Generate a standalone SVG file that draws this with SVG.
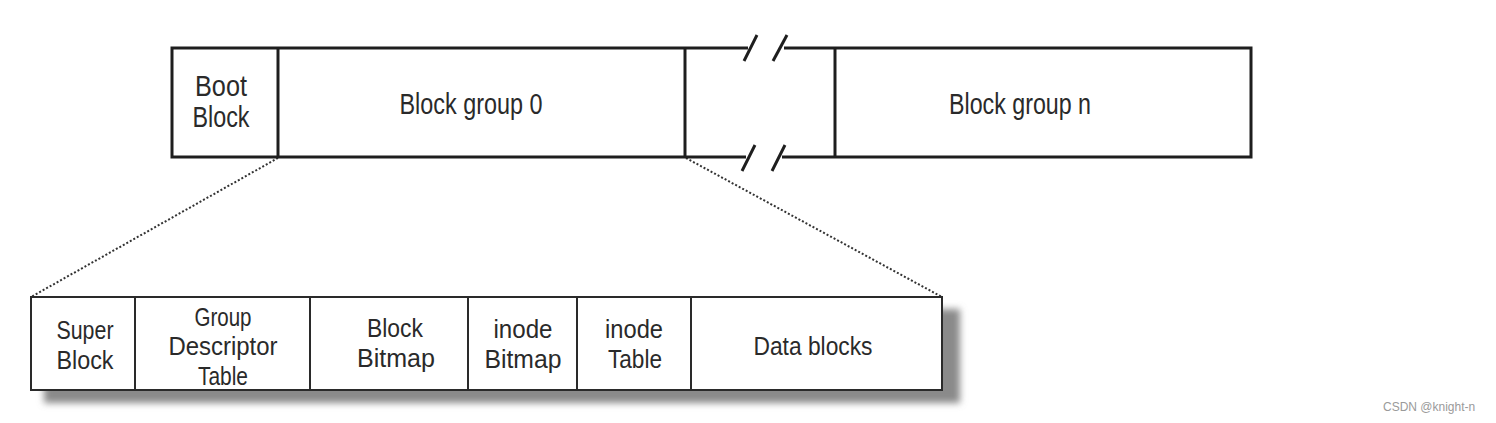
<svg xmlns="http://www.w3.org/2000/svg" width="1496" height="423" viewBox="0 0 1496 423">
<style>
.t{font-family:"Liberation Sans",Arial,sans-serif;font-size:29px;fill:#2a2a2a;}
.s{font-family:"Liberation Sans",Arial,sans-serif;font-size:26px;fill:#2a2a2a;}
.top{fill:#fff;stroke:#1e1e1e;stroke-width:3;}
.bot{fill:#fff;stroke:#2a2a2a;stroke-width:2;}
.div{stroke:#1e1e1e;stroke-width:3;}
.div2{stroke:#2a2a2a;stroke-width:2;}
.dot{stroke:#333;stroke-width:2;stroke-dasharray:2 2;fill:none;}
.brk{stroke:#1e1e1e;stroke-width:3;fill:none;}
.wm{font-family:"Liberation Sans",Arial,sans-serif;font-size:12px;fill:#9a9a9a;}
</style>
<defs>
<filter id="sh" x="-5%" y="-30%" width="110%" height="160%">
<feGaussianBlur stdDeviation="3.5"/>
</filter>
</defs>
<rect width="1496" height="423" fill="#fff"/>

<g id="connectors">
<line class="dot" x1="278" y1="158" x2="31" y2="297"/>
<line class="dot" x1="686" y1="158" x2="942" y2="297"/>
</g>

<g id="disk">
<path class="top" d="M748,48 H172 V157 H746 M782,157 H1251 V48 H784"/>
<line class="div" x1="278" y1="48" x2="278" y2="157"/>
<line class="div" x1="685" y1="48" x2="685" y2="157"/>
<line class="div" x1="835" y1="48" x2="835" y2="157"/>
<line class="brk" x1="744" y1="61" x2="757" y2="35"/>
<line class="brk" x1="773" y1="61" x2="787" y2="35"/>
<line class="brk" x1="742" y1="171" x2="755" y2="145"/>
<line class="brk" x1="772" y1="171" x2="785" y2="145"/>
</g>
<g id="boot-block">
<text class="t" x="221" y="96" text-anchor="middle" textLength="52" lengthAdjust="spacingAndGlyphs">Boot</text>
<text class="t" x="221" y="127" text-anchor="middle" textLength="57" lengthAdjust="spacingAndGlyphs">Block</text>
</g>
<g id="block-group-0">
<text class="t" x="471" y="114" text-anchor="middle" textLength="143" lengthAdjust="spacingAndGlyphs">Block group 0</text>
</g>
<g id="block-group-n">
<text class="t" x="1020" y="114" text-anchor="middle" textLength="142" lengthAdjust="spacingAndGlyphs">Block group n</text>
</g>

<g id="group-detail">
<rect x="44" y="309" width="916" height="94" fill="#8a8a8a" filter="url(#sh)"/>
<rect class="bot" x="31" y="297" width="911" height="93"/>
<line class="div2" x1="135" y1="297" x2="135" y2="390"/>
<line class="div2" x1="310" y1="297" x2="310" y2="390"/>
<line class="div2" x1="468" y1="297" x2="468" y2="390"/>
<line class="div2" x1="577" y1="297" x2="577" y2="390"/>
<line class="div2" x1="691" y1="297" x2="691" y2="390"/>
</g>
<g id="super-block">
<text class="s" x="85" y="339" text-anchor="middle" textLength="57" lengthAdjust="spacingAndGlyphs">Super</text>
<text class="s" x="85" y="369" text-anchor="middle" textLength="57" lengthAdjust="spacingAndGlyphs">Block</text>
</g>
<g id="group-descriptor-table">
<text class="s" x="223" y="326" text-anchor="middle" textLength="57" lengthAdjust="spacingAndGlyphs">Group</text>
<text class="s" x="223" y="355" text-anchor="middle" textLength="109" lengthAdjust="spacingAndGlyphs">Descriptor</text>
<text class="s" x="223" y="385" text-anchor="middle" textLength="50" lengthAdjust="spacingAndGlyphs">Table</text>
</g>
<g id="block-bitmap">
<text class="s" x="395" y="337" text-anchor="middle" textLength="56" lengthAdjust="spacingAndGlyphs">Block</text>
<text class="s" x="396" y="367" text-anchor="middle" textLength="78" lengthAdjust="spacingAndGlyphs">Bitmap</text>
</g>
<g id="inode-bitmap">
<text class="s" x="523" y="338" text-anchor="middle" textLength="59" lengthAdjust="spacingAndGlyphs">inode</text>
<text class="s" x="523" y="368" text-anchor="middle" textLength="77" lengthAdjust="spacingAndGlyphs">Bitmap</text>
</g>
<g id="inode-table">
<text class="s" x="634" y="338" text-anchor="middle" textLength="58" lengthAdjust="spacingAndGlyphs">inode</text>
<text class="s" x="635" y="368" text-anchor="middle" textLength="54" lengthAdjust="spacingAndGlyphs">Table</text>
</g>
<g id="data-blocks">
<text class="s" x="813" y="355" text-anchor="middle" textLength="119" lengthAdjust="spacingAndGlyphs">Data blocks</text>
</g>

<text class="wm" x="1383" y="411">CSDN @knight-n</text>
</svg>
